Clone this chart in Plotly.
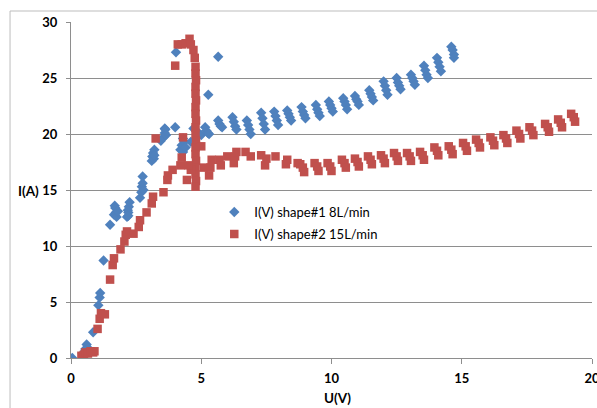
import plotly.graph_objects as go

# Series 1: I(V) shape#1 8L/min  (blue diamonds)
u1 = [0.05, 0.45, 0.55, 0.6, 0.65, 0.85, 1.05, 1.1, 1.12, 1.25, 1.5,
      1.65, 1.68, 1.7, 1.72, 1.75, 1.8,
      2.15, 2.18, 2.2, 2.2, 2.22, 2.25,
      2.65, 2.7, 2.72, 2.75, 2.75, 2.78,
      3.1, 3.12, 3.15, 3.18, 3.2, 3.2,
      3.45, 3.55, 3.6, 3.6, 3.62, 3.65,
      4.0, 4.03,
      4.2, 4.25, 4.3, 4.3, 4.35, 4.4,
      4.6, 4.7, 4.8, 4.9, 5.0, 5.27, 5.65,
      5.15, 5.2, 5.25, 5.3,
      5.65, 5.7, 5.75, 5.8,
      6.2, 6.25, 6.3, 6.35,
      6.75, 6.8, 6.85, 6.9,
      7.3, 7.35, 7.4, 7.45,
      7.8, 7.85, 7.9, 7.95,
      8.3, 8.35, 8.4, 8.45,
      8.85, 8.9, 8.95, 9.0,
      9.4, 9.45, 9.5, 9.55,
      9.9, 9.95, 10.0, 10.05,
      10.45, 10.5, 10.55, 10.6,
      10.9, 10.95, 11.0, 11.05,
      11.45, 11.5, 11.55, 11.6,
      12.0, 12.05, 12.1, 12.15,
      12.5, 12.55, 12.6, 12.65,
      13.05, 13.1, 13.15, 13.2,
      13.55, 13.6, 13.65, 13.7,
      14.05, 14.1, 14.15, 14.2,
      14.6, 14.65, 14.7, 14.7]
i1 = [0.0, 0.4, 0.8, 1.2, 0.9, 2.3, 4.7, 5.4, 5.8, 8.7, 11.9,
      12.8, 13.6, 13.4, 13.0, 12.6, 13.1,
      12.6, 13.2, 13.0, 12.7, 13.5, 13.9,
      14.3, 14.8, 15.3, 15.6, 16.2, 15.0,
      17.6, 18.0, 18.3, 17.8, 18.6, 18.1,
      19.4, 19.7, 20.1, 20.5, 20.4, 19.9,
      20.6, 27.3,
      18.6, 19.0, 18.4, 19.6, 19.3, 18.8,
      19.3, 20.5, 20.3, 20.1, 19.9, 23.5, 26.9,
      20.6, 20.3, 20.1, 20.0,
      21.2, 20.9, 20.7, 20.6,
      21.5, 21.1, 20.7, 20.4,
      21.2, 20.8, 20.4, 20.0,
      21.9, 21.4, 20.9, 20.4,
      22.0, 21.6, 21.2, 20.8,
      22.1, 21.8, 21.5, 21.2,
      22.4, 22.0, 21.7, 21.4,
      22.6, 22.2, 21.9, 21.6,
      22.9, 22.6, 22.3, 22.0,
      23.2, 22.9, 22.6, 22.2,
      23.4, 23.1, 22.9, 22.6,
      23.9, 23.6, 23.3, 23.0,
      24.7, 24.3, 23.9, 23.5,
      25.0, 24.6, 24.3, 24.0,
      25.3, 25.0, 24.7, 24.4,
      26.1, 25.7, 25.3, 25.0,
      26.8, 26.4, 26.0, 25.6,
      27.8, 27.5, 27.1, 26.8]

# Series 2: I(V) shape#2 15L/min  (red squares)
u2 = [0.4, 0.5, 0.55, 0.65, 0.75, 0.85, 0.9,
      1.02, 1.1, 1.15, 1.3,
      1.5, 1.6, 1.65, 1.9, 2.05, 2.1, 2.15, 2.4, 2.6, 2.65, 2.9,
      3.1, 3.15, 3.25, 3.55, 3.7, 3.72, 3.9, 4.0, 4.2, 4.25, 4.3,
      4.1, 4.25, 4.4, 4.55, 4.6, 4.7, 4.75,
      4.78, 4.78, 4.8, 4.78, 4.78, 4.8, 4.78, 4.78, 4.8, 4.78,
      4.78, 4.8, 4.78, 4.78, 4.8, 4.78, 4.78, 4.8, 4.78,
      4.45, 4.6, 4.5,
      5.0, 5.1, 5.3, 5.35, 5.4, 5.7, 5.75, 6.0, 6.25, 6.3, 6.35,
      6.7, 6.9, 7.3, 7.45, 7.5, 7.85, 8.25, 8.3, 8.7,
      8.8, 8.9, 8.95, 9.35, 9.45, 9.5, 9.85, 9.95, 10.0,
      10.4, 10.5, 10.55, 10.9, 11.0, 11.05, 11.4, 11.5, 11.55,
      11.9, 12.0, 12.05, 12.4, 12.5, 12.55, 12.9, 13.0, 13.05,
      13.4, 13.5, 13.55, 13.95, 14.05, 14.1, 14.5, 14.6, 14.65,
      15.05, 15.15, 15.2, 15.55, 15.65, 15.7, 16.1, 16.2, 16.25,
      16.6, 16.7, 16.75, 17.1, 17.2, 17.25, 17.6, 17.7, 17.75,
      18.2, 18.3, 18.35, 18.7, 18.8, 18.85, 19.2, 19.3, 19.35]
i2 = [0.2, 0.3, 0.5, 0.4, 0.6, 0.5, 0.6,
      2.6, 3.5, 4.0, 3.9,
      7.0, 8.3, 8.9, 9.7, 10.4, 11.0, 11.3, 11.1, 11.7, 12.3, 13.0,
      13.8, 14.4, 19.6, 14.8, 15.9, 16.3, 16.8, 26.1, 17.2, 17.9, 19.7,
      28.0, 28.0, 28.1, 28.5, 28.0, 27.5, 26.8,
      26.0, 25.4, 24.8, 24.2, 23.6, 23.0, 22.4, 21.8, 21.2, 20.6,
      20.0, 19.4, 18.8, 18.2, 17.6, 17.0, 16.4, 15.8, 15.3,
      15.9, 16.8, 17.2,
      18.9, 17.0, 16.3, 17.0, 17.7, 17.7, 17.2, 18.0, 17.4, 18.0, 18.4,
      18.4, 18.0, 18.1, 17.2, 17.8, 18.0, 17.3, 17.7, 17.4,
      17.3, 17.0, 16.6, 17.4, 17.1, 16.7, 17.4, 17.1, 16.7,
      17.7, 17.4, 17.0, 17.8, 17.5, 17.1, 18.0, 17.7, 17.3,
      18.1, 17.8, 17.4, 18.3, 18.0, 17.6, 18.3, 18.0, 17.6,
      18.4, 18.1, 17.7, 18.8, 18.5, 18.1, 18.9, 18.6, 18.2,
      19.2, 18.9, 18.5, 19.5, 19.2, 18.8, 19.7, 19.4, 19.0,
      19.9, 19.6, 19.2, 20.3, 20.0, 19.6, 20.6, 20.3, 19.9,
      20.9, 20.6, 20.2, 21.3, 21.0, 20.6, 21.8, 21.5, 21.1]

x_ticks = [0, 5, 10, 15, 20]
y_ticks = [0, 5, 10, 15, 20, 25, 30]

BLUE = "#4F81BD"
RED = "#C0504D"
GRID = "#8E8E8E"
FONT = "Lato"

fig = go.Figure()
fig.add_trace(go.Scatter(
    x=u1, y=i1, mode="markers", name="I(V) shape#1 8L/min", legendgroup="a",
    marker=dict(symbol="diamond", size=8, color=BLUE, line=dict(width=0)),
))
fig.add_trace(go.Scatter(
    x=u2, y=i2, mode="markers", name="I(V) shape#2 15L/min", legendgroup="b",
    marker=dict(symbol="square", size=8.5, color=RED, line=dict(width=0)),
))

fig.update_layout(
    width=597, height=408,
    margin=dict(l=71, r=5, t=22, b=50, autoexpand=False),
    paper_bgcolor="white", plot_bgcolor="white",
    font=dict(family=FONT, size=12, color="#000000"),
    showlegend=True,
    legend=dict(x=0.275, y=0.479, xanchor="left", yanchor="top",
                bgcolor="rgba(0,0,0,0)", font=dict(size=13, family=FONT),
                tracegroupgap=2, itemwidth=30),
    xaxis=dict(range=[0, 20], tickvals=x_ticks, showgrid=False, zeroline=False,
               showline=True, linecolor=GRID, linewidth=1,
               ticks="outside", ticklen=5, tickcolor=GRID,
               ticklabeloverflow="allow", ticklabelstandoff=3,
               tickfont=dict(size=13, family=FONT, weight="bold")),
    yaxis=dict(range=[0, 30], tickvals=y_ticks, showgrid=True, gridcolor=GRID,
               gridwidth=1, zeroline=False,
               showline=True, linecolor=GRID, linewidth=1,
               ticks="outside", ticklen=4, tickcolor=GRID, ticklabelstandoff=6,
               tickfont=dict(size=13, family=FONT, weight="bold")),
    annotations=[
        dict(text="<b>I(A)</b>", x=-0.0825, y=0.497, xref="paper", yref="paper",
             xanchor="center", yanchor="middle",
             showarrow=False, font=dict(size=13.5, family=FONT)),
        dict(text="<b>U(V)</b>", x=0.5106, y=-0.119, xref="paper", yref="paper",
             xanchor="center", yanchor="middle",
             showarrow=False, font=dict(size=13.5, family=FONT)),
    ],
    shapes=[
        dict(type="line", xref="paper", yref="paper", x0=-0.117, x1=-0.117,
             y0=-0.2, y1=1.0327, line=dict(color="#BDBDBD", width=1)),
        dict(type="line", xref="paper", yref="paper", x0=-0.117, x1=1.02,
             y0=1.0327, y1=1.0327, line=dict(color="#BDBDBD", width=1)),
    ],
)

fig.write_html("out.html", config={"displayModeBar": False},
               post_script="document.body.style.margin='0';document.body.style.padding='0';")
